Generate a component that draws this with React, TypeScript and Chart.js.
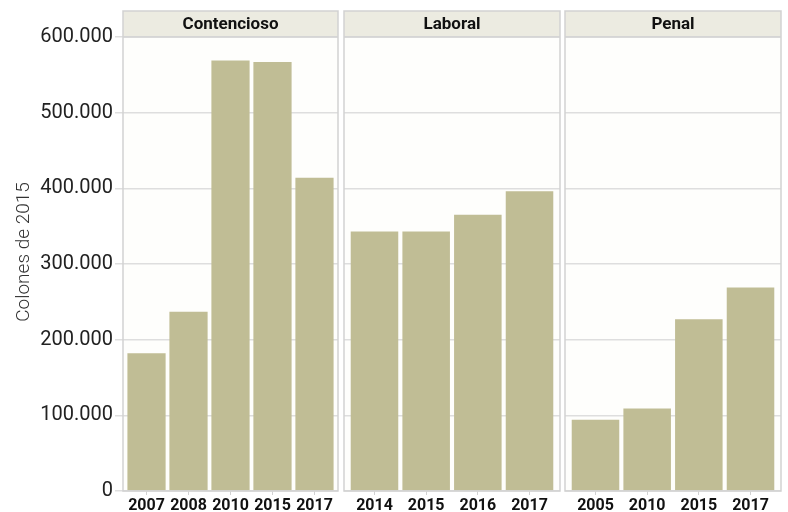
import React, { useEffect, useRef } from 'react';
import { Chart, registerables } from 'chart.js';

Chart.register(...registerables);

const panelTitles = ['Contencioso', 'Laboral', 'Penal'];
const contenciosoYears = ['2007', '2008', '2010', '2015', '2017'];
const contenciosoValues = [182000, 237000, 569000, 567000, 414000];
const laboralYears = ['2014', '2015', '2016', '2017'];
const laboralValues = [343000, 343000, 365000, 396000];
const penalYears = ['2005', '2010', '2015', '2017'];
const penalValues = [94000, 109000, 227000, 269000];
const yMin = 0;
const yMax = 600000;
const yStep = 100000;
const yAxisTitle = 'Colones de 2015';

const BAR = '#c0bd95';
const HEADER_BG = '#ecebe1';
const PANEL_BG = '#fefefc';
const BORDER = '#d2d2d2';
const GRID = '#dedede';
const BOLD_FONT = 'Roboto, "Noto Sans", sans-serif';
const REG_FONT = 'Roboto, "Open Sans", sans-serif';

const fmt = (v: number) => String(v).replace(/\B(?=(\d{3})+(?!\d))/g, '.');

const HEADER_TOP = 11;
const PLOT_TOP = 37;
const PLOT_BOTTOM = 491;
const CANVAS_H = 512;

type PanelProps = {
  title: string;
  labels: string[];
  values: number[];
  left: number;
  width: number;
  showYAxis: boolean;
  yAxisWidth: number;
  edgePad: number;
  barPct: number;
};

function Panel({ title, labels, values, left, width, showYAxis, yAxisWidth, edgePad, barPct }: PanelProps) {
  const ref = useRef<HTMLCanvasElement | null>(null);
  useEffect(() => {
    if (!ref.current) return;
    const panelPlugin = {
      id: 'panelDeco',
      beforeDraw(chart: any) {
        const { ctx, chartArea } = chart;
        ctx.save();
        ctx.fillStyle = PANEL_BG;
        ctx.fillRect(chartArea.left, chartArea.top, chartArea.right - chartArea.left, chartArea.bottom - chartArea.top);
        ctx.fillStyle = HEADER_BG;
        ctx.fillRect(chartArea.left, HEADER_TOP, chartArea.right - chartArea.left, chartArea.top - HEADER_TOP);
        ctx.restore();
      },
      afterDraw(chart: any) {
        const { ctx, chartArea } = chart;
        ctx.save();
        ctx.strokeStyle = BORDER;
        ctx.lineWidth = 1.5;
        ctx.strokeRect(chartArea.left, HEADER_TOP, chartArea.right - chartArea.left, chartArea.bottom - HEADER_TOP);
        ctx.beginPath();
        ctx.moveTo(chartArea.left, chartArea.top);
        ctx.lineTo(chartArea.right, chartArea.top);
        ctx.stroke();
        ctx.fillStyle = '#111';
        ctx.font = `bold 17px ${BOLD_FONT}`;
        ctx.textAlign = 'center';
        ctx.textBaseline = 'middle';
        ctx.fillText(title, (chartArea.left + chartArea.right) / 2, (HEADER_TOP + chartArea.top) / 2 + 1);
        if (showYAxis) {
          ctx.translate(24, 252);
          ctx.rotate(-Math.PI / 2);
          ctx.font = `300 19px ${REG_FONT}`;
          ctx.fillStyle = '#333';
          ctx.fillText(yAxisTitle, 0, 0);
        }
        ctx.restore();
      },
    };
    const chart = new Chart(ref.current, {
      type: 'bar',
      data: {
        datasets: [
          {
            data: values.map((v, i) => ({ x: i, y: v })),
            backgroundColor: BAR,
            borderWidth: 0,
            barPercentage: barPct,
            categoryPercentage: 1,
          },
        ],
      },
      options: {
        animation: false,
        responsive: false,
        maintainAspectRatio: false,
        layout: { padding: { top: PLOT_TOP, right: 1, left: 0, bottom: 0 } },
        plugins: {
          legend: { display: false },
          tooltip: { enabled: false },
          title: { display: false },
        },
        scales: {
          x: {
            type: 'linear',
            bounds: 'data',
            offset: false,
            min: -0.5 - edgePad,
            max: labels.length - 0.5 + edgePad,
            afterBuildTicks: (scale: any) => {
              scale.ticks = labels.map((_, i) => ({ value: i }));
            },
            grid: {
              display: true,
              offset: false,
              drawOnChartArea: false,
              drawTicks: true,
              tickLength: 4,
              color: BORDER,
            },
            border: { display: false },
            ticks: {
              color: '#111',
              padding: 1,
              stepSize: 1,
              font: { family: BOLD_FONT, size: 16, weight: 'bold' },
              maxRotation: 0,
              autoSkip: false,
              callback: (v: any) => labels[Math.round(Number(v))] ?? '',
            },
            afterFit: (scale: any) => {
              scale.height = CANVAS_H - PLOT_BOTTOM;
            },
          },
          y: {
            min: yMin,
            max: yMax,
            ticks: {
              display: showYAxis,
              stepSize: yStep,
              color: '#222',
              padding: 2,
              font: { family: REG_FONT, size: 20 },
              callback: (v: any) => fmt(Number(v)),
            },
            grid: {
              color: GRID,
              lineWidth: 1.5,
              drawTicks: showYAxis,
              tickLength: 8,
            },
            border: { display: false },
            afterFit: (scale: any) => {
              scale.width = yAxisWidth;
            },
          },
        },
      } as any,
      plugins: [panelPlugin],
    });
    return () => chart.destroy();
  }, [title, labels, values, showYAxis, yAxisWidth, edgePad, barPct]);

  return (
    <canvas
      ref={ref}
      width={width}
      height={CANVAS_H}
      style={{ position: 'absolute', left, top: 0, width, height: CANVAS_H }}
    />
  );
}

export default function App() {
  return (
    <div style={{ position: 'fixed', left: 0, top: 0, width: 788, height: 512, background: '#fff', overflow: 'hidden' }}>
      <Panel title={panelTitles[0]} labels={contenciosoYears} values={contenciosoValues} left={0} width={339} showYAxis={true} yAxisWidth={123} edgePad={0.06} barPct={0.91} />
      <Panel title={panelTitles[1]} labels={laboralYears} values={laboralValues} left={343} width={218} showYAxis={false} yAxisWidth={1} edgePad={0.09} barPct={0.92} />
      <Panel title={panelTitles[2]} labels={penalYears} values={penalValues} left={564} width={218} showYAxis={false} yAxisWidth={1} edgePad={0.09} barPct={0.92} />
    </div>
  );
}
